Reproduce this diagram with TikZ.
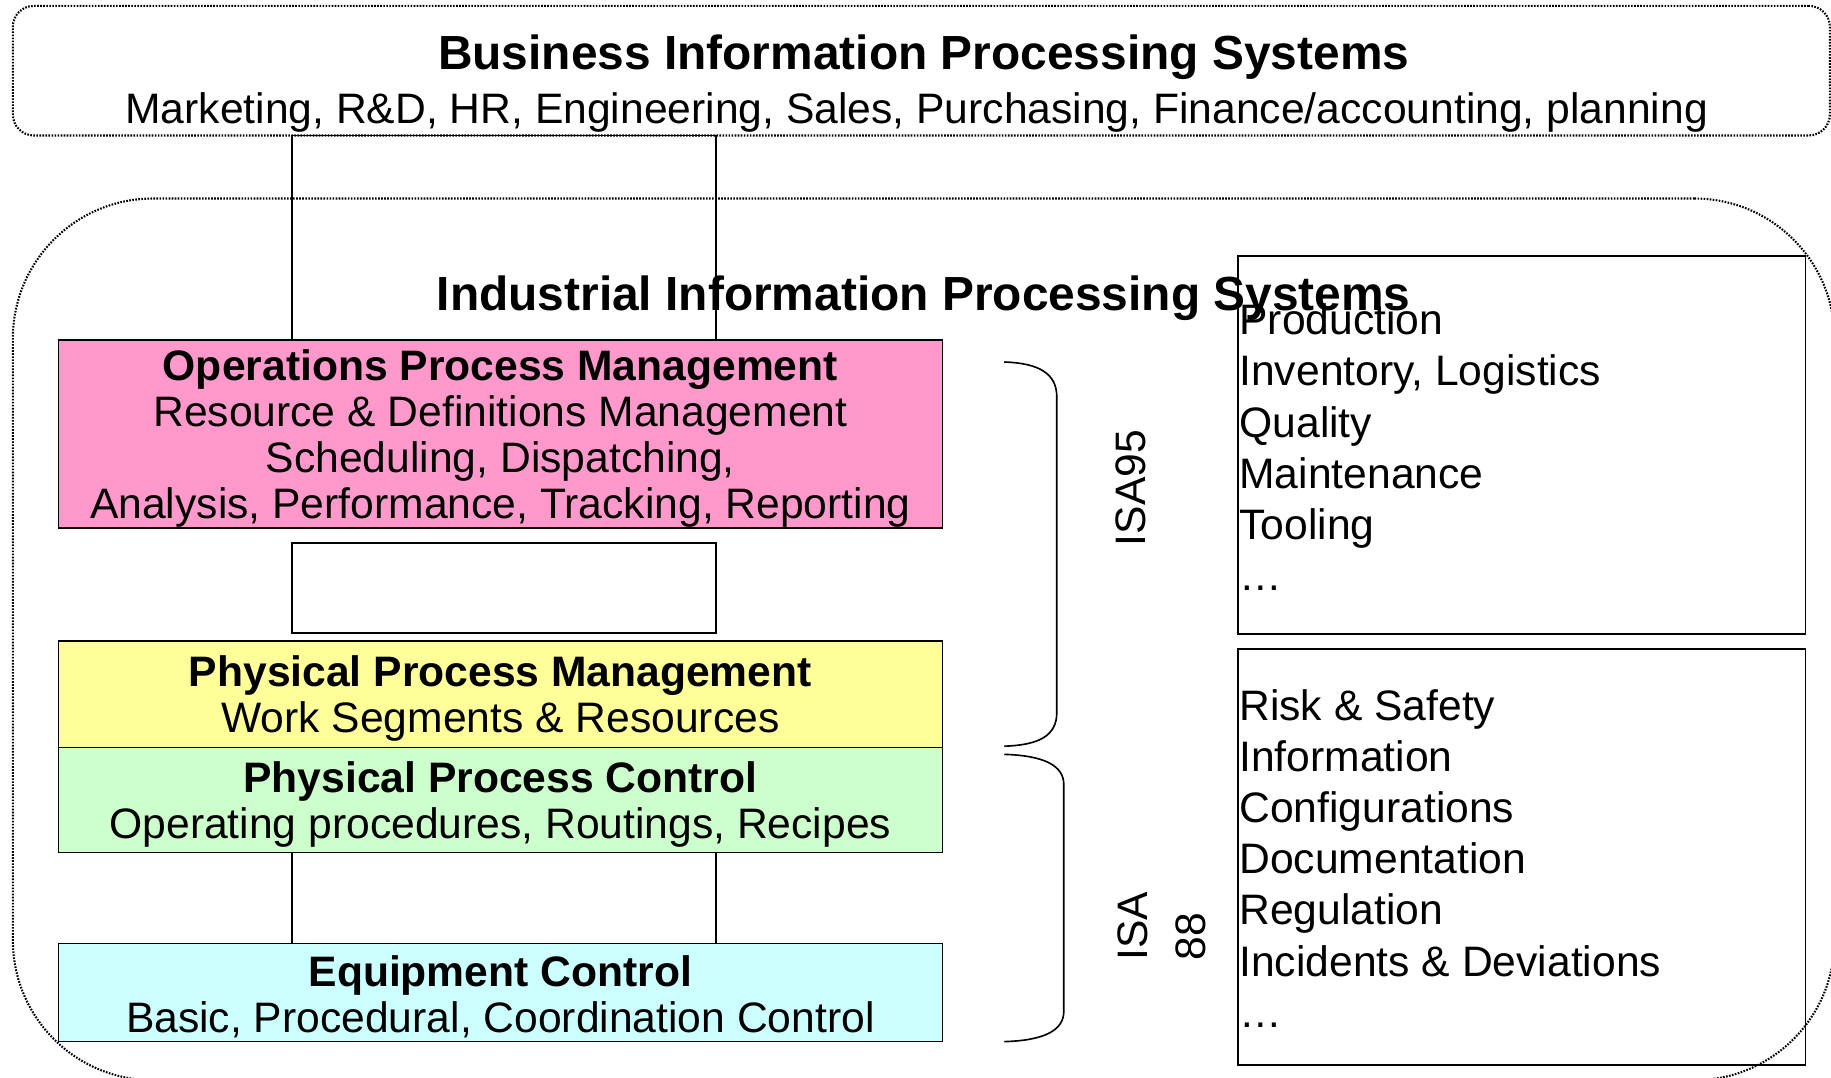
\documentclass[tikz,border=0pt]{standalone}
\usepackage{fontspec}
\setmainfont{Liberation Sans}
\usetikzlibrary{positioning}
\newcommand{\layerhead}[1]{\rule{0pt}{17pt}\textbf{#1}}

\begin{document}
\begin{tikzpicture}[x=0.5pt, y=-0.5pt,
        every node/.style={font=\fontsize{18.25pt}{19.75pt}\selectfont},
        title/.style={font=\fontsize{20.5pt}{24pt}\selectfont\bfseries},
        sysbox/.style={draw, dash pattern=on 0.7pt off 0.6pt, line width=0.9pt, inner sep=0pt},
        layer/.style={draw, line width=0.7pt, minimum width=378.5pt, align=center, inner sep=0pt},
        linkbox/.style={draw, line width=0.7pt, minimum width=181.5pt, inner sep=0pt},
        listbox/.style={draw, line width=0.7pt, minimum width=243pt, inner sep=0pt},
        listtext/.style={align=left, anchor=west, inner sep=0pt, font=\fontsize{18.25pt}{21.9pt}\selectfont},
        brace/.style={line width=0.7pt}]
        \useasboundingbox (0, 0) rectangle (1568, 923);

        \node[sysbox, minimum width=780pt, minimum height=377.5pt, rounded corners=60pt] (iips) at (791, 547.5) {};
        \node[sysbox, minimum width=778pt, minimum height=55.5pt, rounded corners=9pt] (bips) at (789, 60.5) {};
        \node[title] (bipsTitle) at (791, 49) {Business Information Processing Systems};
        \node (bipsList) at (785, 96) {Marketing, R\&D, HR, Engineering, Sales, Purchasing, Finance/accounting, planning};
        \node[title] (iipsTitle) at (791, 255) {Industrial Information Processing Systems};

        \node[linkbox, minimum height=87.5pt] (link1) at (431.5, 203.5) {};
        \node[linkbox, minimum height=38.5pt] (link2) at (431.5, 503.5) {};
        \node[linkbox, minimum height=39pt] (link3) at (431.5, 769) {};

        \node[layer, fill={rgb,255:red,255;green,153;blue,204}, minimum height=80.5pt] (opm) at (428.5, 371.5)
            {\layerhead{Operations Process Management}\\Resource \& Definitions Management\\Scheduling, Dispatching,\\Analysis, Performance, Tracking, Reporting};
        \node[layer, fill={rgb,255:red,255;green,255;blue,153}, minimum height=45.5pt] (ppm) at (428.5, 594.5)
            {\layerhead{Physical Process Management}\\Work Segments \& Resources};
        \node[layer, fill={rgb,255:red,204;green,255;blue,204}, minimum height=45pt] (ppc) at (428.5, 685)
            {\layerhead{Physical Process Control}\\Operating procedures, Routings, Recipes};
        \node[layer, fill={rgb,255:red,204;green,255;blue,255}, minimum height=42pt] (eqc) at (428.5, 850)
            {\layerhead{Equipment Control}\\Basic, Procedural, Coordination Control};

        \draw[brace] (860, 310) .. controls (890, 311) and (905, 320) .. (905, 340) -- (905, 610) .. controls (905, 630) and (890, 638) .. (860, 639);
        \draw[brace] (860, 646) .. controls (893, 647) and (911, 655) .. (911, 672) -- (911, 866) .. controls (911, 883) and (893, 891) .. (860, 892);
        \node[rotate=90] (isa95) at (968, 418) {ISA95};
        \node[rotate=90, align=left, font=\fontsize{18.25pt}{25pt}\selectfont] (isa88) at (995, 793) {ISA\\88};

        \node[listbox, minimum height=162pt] (mesBox) at (1303, 381) {};
        \node[listbox, minimum height=178pt] (infoBox) at (1303, 734) {};
        \node[listtext] (mesList) at (1061, 383)
            {Production\\Inventory, Logistics\\Quality\\Maintenance\\Tooling\\…};
        \node[listtext] (infoList) at (1061, 735)
            {Risk \& Safety\\Information\\Configurations\\Documentation\\Regulation\\Incidents \& Deviations\\…};
    \end{tikzpicture}
\end{document}
